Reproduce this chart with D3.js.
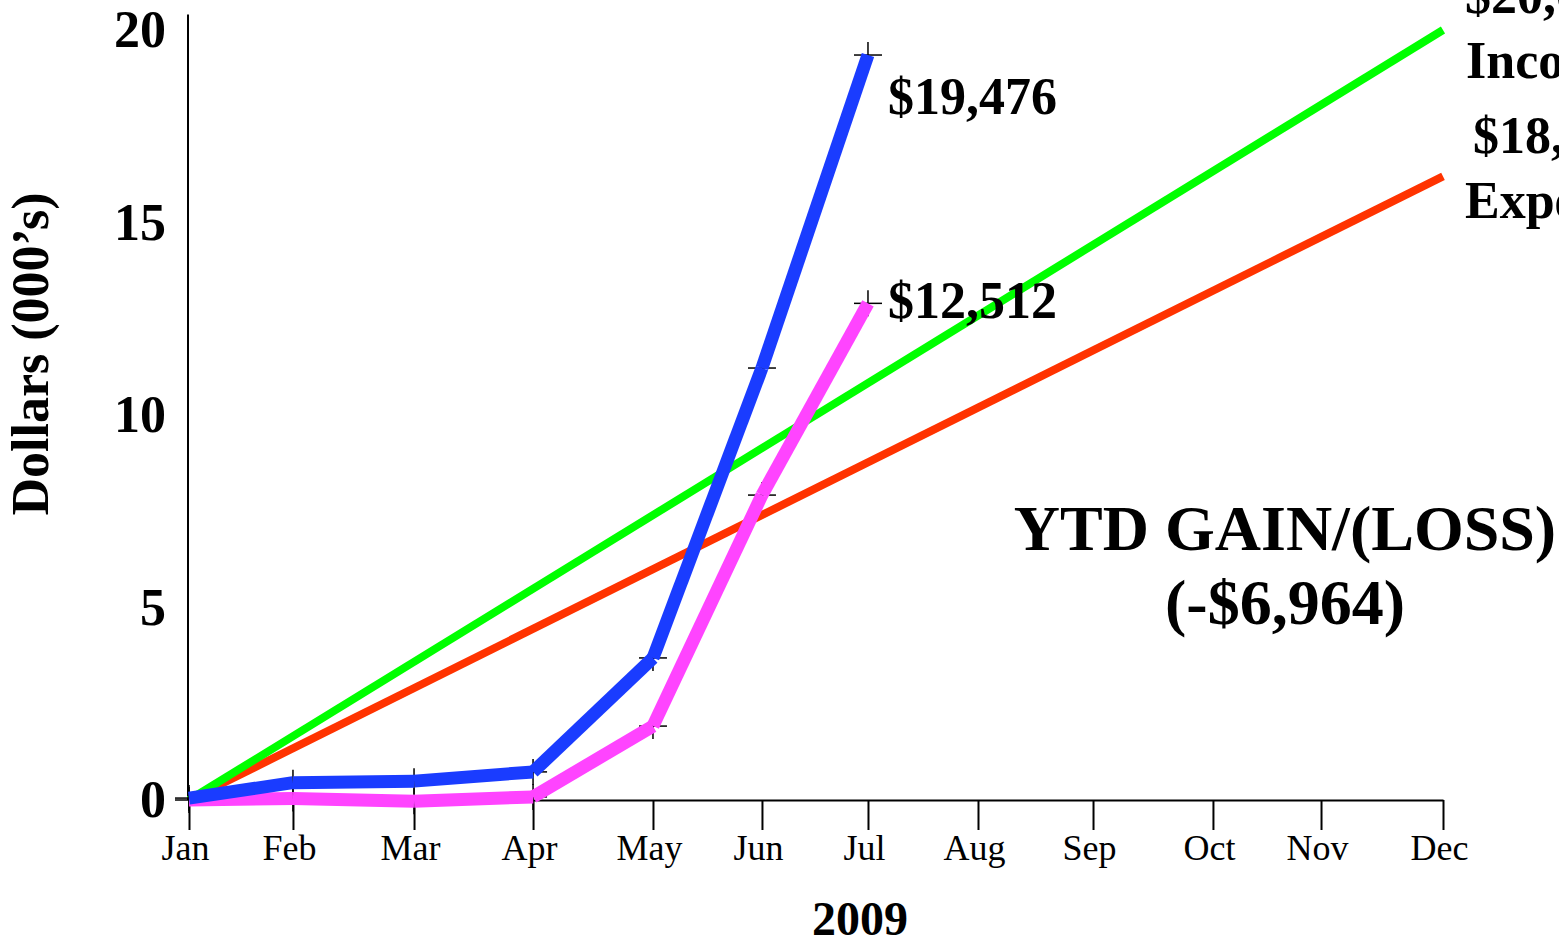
<!DOCTYPE html>
<html>
<head>
<meta charset="utf-8">
<script src="https://cdn.jsdelivr.net/npm/d3@7"></script>
<style>
  html, body { margin: 0; padding: 0; background: #fff; overflow: hidden; }
  svg { display: block; font-family: "Liberation Serif", "Times New Roman", Times, serif; }
</style>
</head>
<body>
<svg id="chart" width="1559" height="944"></svg>
<script>
// ---- data ----
const months = ["Jan","Feb","Mar","Apr","May","Jun","Jul","Aug","Sep","Oct","Nov","Dec"];
// month tick positions along the axis (month index units)
const monthPos = [0, 0.912, 1.974, 3.018, 4.070, 5.026, 5.956, 6.921, 7.930, 8.982, 9.930, 11];
const yTicks = [0, 5, 10, 15, 20];
// actual YTD expenses (blue) and income (pink), thousands of dollars, Jan..Jul
const expensesActual = [0.05, 0.45, 0.49, 0.73, 3.69, 11.22, 19.35];
const incomeActual   = [0.0, 0.04, -0.03, 0.08, 1.92, 7.92, 12.9];
// budget lines (Jan and Dec)
const incomeBudget   = [0, 20.0];
const expenseBudget  = [0, 16.2];
const budgetMonths   = [0, 11];
const expensesLabel = "$19,476";
const incomeLabel = "$12,512";
const gainTitle = "YTD GAIN/(LOSS)";
const gainValue = "(-$6,964)";
const incomeBudgetLabel = ["$20,000", "Income"];
const expenseBudgetLabel = ["$18,000", "Expenses"];

// ---- scales ----
const svg = d3.select("#chart");
const x = d3.scaleLinear().domain([0, 11]).range([189, 1443]);
const y = d3.scaleLinear().domain([0, 20]).range([800, 30]);

// ---- axes ----
const xAxis = d3.axisBottom(x)
  .tickValues(monthPos)
  .tickFormat((d, i) => months[i])
  .tickSizeInner(30).tickSizeOuter(0).tickPadding(4);
const gx = svg.append("g").attr("transform", `translate(0,${y(0)})`).call(xAxis);
gx.select(".domain").attr("stroke", "#000").attr("stroke-width", 2);
gx.selectAll(".tick line").attr("stroke", "#000").attr("stroke-width", 2);
gx.selectAll(".tick text")
  .attr("fill", "#000").attr("font-size", 36)
  .attr("font-family", "'Liberation Serif', 'Times New Roman', serif")
  .attr("dx", -4)
  .attr("dy", "0.71em");

const yAxis = d3.axisLeft(y)
  .tickValues(yTicks).tickSizeInner(0).tickSizeOuter(0).tickPadding(22);
const gy = svg.append("g").attr("transform", `translate(${x(0) - 1},0)`).call(yAxis);
gy.select(".domain").remove();
gy.append("line").attr("x1", 0).attr("x2", 0).attr("y1", y(20.4)).attr("y2", y(0))
  .attr("stroke", "#000").attr("stroke-width", 2);
gy.selectAll(".tick text")
  .attr("fill", "#000").attr("font-size", 52).attr("font-weight", "bold")
  .attr("font-family", "'Liberation Serif', 'Times New Roman', serif");

// ---- axis titles ----
svg.append("text").attr("x", 860).attr("y", 935).attr("text-anchor", "middle")
  .attr("font-size", 48).attr("font-weight", "bold").text("2009");
svg.append("text").attr("transform", "translate(48,354) rotate(-90)")
  .attr("text-anchor", "middle").attr("font-size", 52).attr("font-weight", "bold")
  .text("Dollars (000\u2019s)");

// ---- budget lines ----
function budget(vals, color) {
  svg.append("path")
    .datum(vals.map((v, i) => [budgetMonths[i], v]))
    .attr("d", d3.line().x(d => x(d[0])).y(d => y(d[1])))
    .attr("fill", "none").attr("stroke", color).attr("stroke-width", 8);
}
budget(expenseBudget, "#ff3300");
budget(incomeBudget, "#00ff00");

// ---- markers (under lines) ----
function markers(vals) {
  const g = svg.append("g");
  vals.forEach((v, i) => {
    const cx = x(monthPos[i]), cy = y(v);
    g.append("line").attr("x1", cx - 14).attr("x2", cx + 14).attr("y1", cy).attr("y2", cy)
      .attr("stroke", "#000").attr("stroke-width", 1.5);
    g.append("line").attr("x1", cx).attr("x2", cx).attr("y1", cy - 13).attr("y2", cy + 13)
      .attr("stroke", "#000").attr("stroke-width", 1.5);
  });
}
markers(expensesActual);
markers(incomeActual);

// ---- actual lines drawn as segments ----
function series(vals, color) {
  const g = svg.append("g");
  for (let i = 0; i < vals.length - 1; i++) {
    g.append("line")
      .attr("x1", x(monthPos[i])).attr("y1", y(vals[i]))
      .attr("x2", x(monthPos[i + 1])).attr("y2", y(vals[i + 1]))
      .attr("stroke", color).attr("stroke-width", 13).attr("stroke-linecap", "butt");
  }
}
series(incomeActual, "#ff44ff");
series(expensesActual, "#1a3cff");

// ---- labels ----
const jx = x(monthPos[6]);
svg.append("text").attr("x", jx + 20).attr("y", 114)
  .attr("font-size", 52).attr("font-weight", "bold").text(expensesLabel);
svg.append("text").attr("x", jx + 20).attr("y", 318)
  .attr("font-size", 52).attr("font-weight", "bold").text(incomeLabel);

svg.append("text").attr("x", 1285).attr("y", 550).attr("text-anchor", "middle")
  .attr("font-size", 64).attr("font-weight", "bold").text(gainTitle);
svg.append("text").attr("x", 1285).attr("y", 624).attr("text-anchor", "middle")
  .attr("font-size", 64).attr("font-weight", "bold").text(gainValue);

svg.append("text").attr("x", 1465).attr("y", 13)
  .attr("font-size", 52).attr("font-weight", "bold").text(incomeBudgetLabel[0]);
svg.append("text").attr("x", 1466).attr("y", 78)
  .attr("font-size", 52).attr("font-weight", "bold").text(incomeBudgetLabel[1]);
svg.append("text").attr("x", 1473).attr("y", 153)
  .attr("font-size", 52).attr("font-weight", "bold").text(expenseBudgetLabel[0]);
svg.append("text").attr("x", 1465).attr("y", 218)
  .attr("font-size", 52).attr("font-weight", "bold").text(expenseBudgetLabel[1]);
</script>
</body>
</html>
